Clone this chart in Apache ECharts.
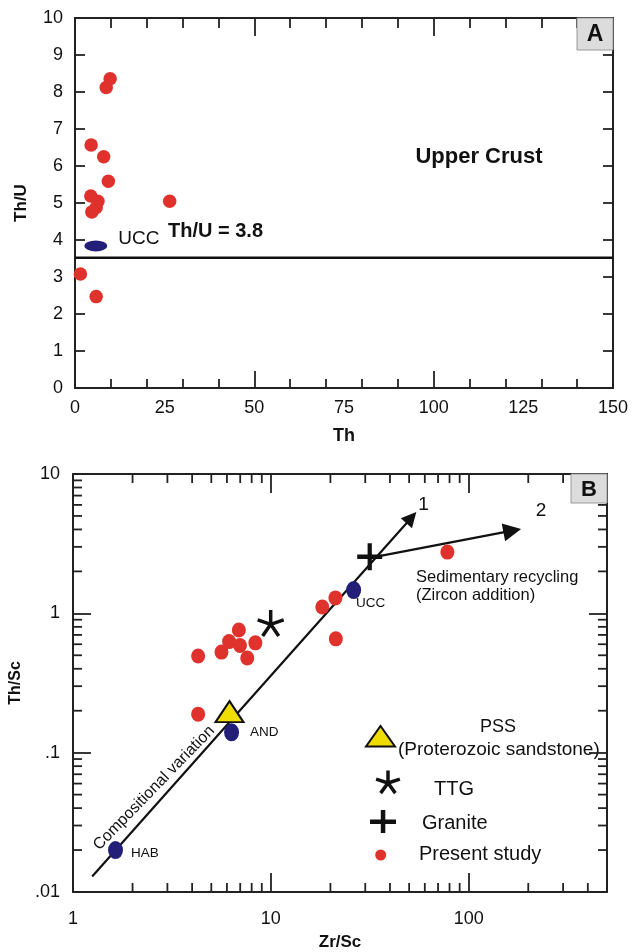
<!DOCTYPE html>
<html>
<head>
<meta charset="utf-8">
<title>Th/U vs Th and Th/Sc vs Zr/Sc</title>
<script src="https://cdn.jsdelivr.net/npm/echarts@6/dist/echarts.min.js"></script>
<style>
  html, body { margin: 0; padding: 0; background: #fff; }
  #chart { width: 632px; height: 952px; }
</style>
</head>
<body>
<div id="chart"></div>
<script>
// panel A : Th (ppm) vs Th/U
const thA  = [9.8, 8.7, 4.5, 8.0, 9.3, 4.4, 6.4, 5.9, 4.7, 26.4, 1.5, 5.9];
const thuA = [8.36, 8.12, 6.57, 6.25, 5.59, 5.19, 5.05, 4.88, 4.76, 5.05, 3.08, 2.47];
const uccA = [5.8, 3.84];
const thuLine = [[0, 3.52], [150, 3.52]];
const xLabelsA = [0, 25, 50, 75, 100, 125, 150];

// panel B : Zr/Sc vs Th/Sc (log-log)
const zrScB = [4.29, 5.63, 6.15, 6.89, 6.98, 7.60, 8.35, 4.29, 18.2, 21.2, 21.3, 78.0];
const thScB = [0.494, 0.527, 0.627, 0.760, 0.587, 0.478, 0.614, 0.189, 1.11, 1.29, 0.656, 2.75];
const refNames = ['HAB', 'AND', 'UCC'];
const refZr    = [1.64, 6.33, 26.2];
const refTh    = [0.020, 0.140, 1.47];
const pssB     = [6.18, 0.197];
const ttgB     = [9.98, 0.853];
const graniteB = [31.6, 2.55];
const trend1   = [[1.25, 0.0129], [51.3, 4.86]];   // compositional variation -> 1
const trend2   = [[34.2, 2.55], [166, 3.92]];      // sedimentary recycling -> 2
const xLabelsB = {1: '1', 10: '10', 100: '100'};
const yLabelsB = {0.01: '.01', 0.1: '.1', 1: '1', 10: '10'};

// minor ticks of the log axes (2..9 in each decade)
const minorXB = [];
[1, 10, 100].forEach(d => { for (let k = 2; k <= 9; k++) if (k * d < 500) minorXB.push(k * d); });
const minorYB = [];
[0.01, 0.1, 1].forEach(d => { for (let k = 2; k <= 9; k++) minorYB.push(+(k * d).toPrecision(3)); });

const FONT = '"Liberation Sans", Arial, sans-serif';
const INK = '#111';
const AXIS = '#222';
const RED = '#e0322c';
const NAVY = '#231f78';
const YELLOW = '#f0dc00';

const chart = echarts.init(document.getElementById('chart'), null, {renderer: 'canvas'});

const axisLine = {onZero: false, lineStyle: {color: AXIS, width: 2}};
const tickStyle = {color: AXIS, width: 1.8};

function logLabel(map) {
  return v => map[+(+v).toPrecision(6)] || '';
}

// asterisk (5 arms) and plus symbols
const asteriskPath = 'path://M0,-1L0,0M0.951,-0.309L0,0M0.588,0.809L0,0M-0.588,0.809L0,0M-0.951,-0.309L0,0';
const plusPath = 'path://M-1,-0.17L1,-0.17L1,0.17L-1,0.17ZM-0.17,-1L0.17,-1L0.17,1L-0.17,1Z';

const legendStar = [0, 72, 144, 216, 288].map(a => {
  const r = a * Math.PI / 180;
  return {
    type: 'line',
    shape: {x1: 388, y1: 783, x2: 388 + 12.5 * Math.sin(r), y2: 783 - 12.5 * Math.cos(r)},
    style: {stroke: INK, lineWidth: 3.5}
  };
});

const option = {
  animation: false,
  textStyle: {fontFamily: FONT, color: INK},
  grid: [
    {left: 75, top: 18, right: 19, height: 370},
    {left: 73, top: 474, right: 25, height: 420}
  ],
  xAxis: [
    {
      gridIndex: 0, type: 'value', position: 'bottom', min: 0, max: 150, interval: 50,
      name: 'Th', nameLocation: 'middle', nameGap: 39,
      nameTextStyle: {fontSize: 18, fontWeight: 'bold', color: INK, fontFamily: FONT},
      axisLine: axisLine,
      axisTick: {inside: true, length: 17, lineStyle: tickStyle},
      minorTick: {show: true, splitNumber: 5, length: 9, lineStyle: tickStyle},
      axisLabel: {customValues: xLabelsA, fontSize: 18, margin: 11, color: INK, fontFamily: FONT},
      splitLine: {show: false}
    },
    {
      gridIndex: 0, type: 'value', position: 'top', min: 0, max: 150, interval: 50,
      axisLine: axisLine,
      axisTick: {inside: true, length: 18, lineStyle: tickStyle},
      minorTick: {show: true, splitNumber: 5, length: 10, lineStyle: tickStyle},
      axisLabel: {show: false},
      splitLine: {show: false}
    },
    {
      gridIndex: 1, type: 'log', logBase: 10, position: 'bottom', min: 1, max: 500,
      name: 'Zr/Sc', nameLocation: 'middle', nameGap: 42,
      nameTextStyle: {fontSize: 17, fontWeight: 'bold', color: INK, fontFamily: FONT},
      axisLine: axisLine,
      axisTick: {inside: true, length: 19, lineStyle: tickStyle},
      axisLabel: {formatter: logLabel(xLabelsB), fontSize: 18, margin: 18, color: INK, fontFamily: FONT},
      splitLine: {show: false}
    },
    {
      gridIndex: 1, type: 'log', logBase: 10, position: 'top', min: 1, max: 500,
      axisLine: axisLine,
      axisTick: {inside: true, length: 19, lineStyle: tickStyle},
      axisLabel: {show: false},
      splitLine: {show: false}
    }
  ],
  yAxis: [
    {
      gridIndex: 0, type: 'value', position: 'left', min: 0, max: 10, interval: 1,
      name: 'Th/U', nameLocation: 'middle', nameGap: 45,
      nameTextStyle: {fontSize: 17, fontWeight: 'bold', color: INK, fontFamily: FONT},
      axisLine: axisLine,
      axisTick: {inside: true, length: 10, lineStyle: tickStyle},
      axisLabel: {fontSize: 18, margin: 12, color: INK, fontFamily: FONT},
      splitLine: {show: false}
    },
    {
      gridIndex: 0, type: 'value', position: 'right', min: 0, max: 10, interval: 1,
      axisLine: axisLine,
      axisTick: {inside: true, length: 10, lineStyle: tickStyle},
      axisLabel: {show: false},
      splitLine: {show: false}
    },
    {
      gridIndex: 1, type: 'log', logBase: 10, position: 'left', min: 0.01, max: 10,
      name: 'Th/Sc', nameLocation: 'middle', nameGap: 48,
      nameTextStyle: {fontSize: 16, fontWeight: 'bold', color: INK, fontFamily: FONT},
      axisLine: axisLine,
      axisTick: {inside: true, length: 18, lineStyle: tickStyle},
      axisLabel: {formatter: logLabel(yLabelsB), fontSize: 18, margin: 13, color: INK, fontFamily: FONT},
      splitLine: {show: false}
    },
    {
      gridIndex: 1, type: 'log', logBase: 10, position: 'right', min: 0.01, max: 10,
      axisLine: axisLine,
      axisTick: {inside: true, length: 18, lineStyle: tickStyle},
      axisLabel: {show: false},
      splitLine: {show: false}
    }
  ],
  series: [
    // ---- A ----
    {
      type: 'line', xAxisIndex: 0, yAxisIndex: 0, data: thuLine,
      symbol: 'none', silent: true, z: 1,
      lineStyle: {color: INK, width: 2.5}
    },
    {
      name: 'Present study', type: 'scatter', xAxisIndex: 0, yAxisIndex: 0,
      data: thA.map((x, i) => [x, thuA[i]]),
      symbolSize: 13.5, itemStyle: {color: RED, opacity: 1}
    },
    {
      name: 'UCC', type: 'scatter', xAxisIndex: 0, yAxisIndex: 0,
      data: [uccA], symbolSize: [23, 11], itemStyle: {color: NAVY, opacity: 1},
      label: {show: true, formatter: 'UCC', position: 'right', offset: [6, -7],
              fontSize: 19, color: INK, fontFamily: FONT}
    },
    // ---- B ----
    {
      type: 'lines', coordinateSystem: 'cartesian2d', xAxisIndex: 2, yAxisIndex: 2,
      silent: true, z: 1,
      symbol: ['none', 'triangle'],
      lineStyle: {color: INK, width: 2.2, opacity: 1},
      data: [
        {coords: trend1, symbolSize: [12, 15]},
        {coords: trend2, symbolSize: [15, 18]}
      ]
    },
    {
      name: 'Present study', type: 'scatter', xAxisIndex: 2, yAxisIndex: 2,
      data: zrScB.map((x, i) => [x, thScB[i]]),
      symbolSize: [14, 15], itemStyle: {color: RED, opacity: 1}
    },
    {
      name: 'References', type: 'scatter', xAxisIndex: 2, yAxisIndex: 2,
      symbolSize: [15, 18], itemStyle: {color: NAVY, opacity: 1},
      label: {show: true, position: 'right', formatter: p => p.name,
              fontSize: 13.5, color: INK, fontFamily: FONT},
      data: refNames.map((n, i) => ({
        name: n, value: [refZr[i], refTh[i]],
        label: {offset: [[3, 3], [6, 0], [-10, 13]][i]}
      }))
    },
    {
      name: 'PSS', type: 'scatter', xAxisIndex: 2, yAxisIndex: 2,
      data: [pssB], symbol: 'triangle', symbolSize: [28, 21],
      itemStyle: {color: YELLOW, borderColor: INK, borderWidth: 2, opacity: 1}
    },
    {
      name: 'TTG', type: 'scatter', xAxisIndex: 2, yAxisIndex: 2,
      data: [ttgB], symbol: asteriskPath, symbolSize: 26,
      itemStyle: {color: 'none', borderColor: INK, borderWidth: 3.5, opacity: 1}
    },
    {
      name: 'Granite', type: 'scatter', xAxisIndex: 2, yAxisIndex: 2,
      data: [graniteB], symbol: plusPath, symbolSize: [25, 27],
      itemStyle: {color: INK, opacity: 1}
    },
    {
      // minor ticks on all four sides of panel B
      type: 'custom', xAxisIndex: 2, yAxisIndex: 2, silent: true, z: 5,
      encode: {x: 0, y: 1},
      data: minorXB.map(v => [v, 1, 0]).concat(minorYB.map(v => [1, v, 1])),
      renderItem: function (params, api) {
        const cs = params.coordSys;
        const p = api.coord([api.value(0), api.value(1)]);
        const len = 9;
        const style = {stroke: AXIS, lineWidth: 1.8};
        if (api.value(2) === 0) {
          return {type: 'group', children: [
            {type: 'line', shape: {x1: p[0], y1: cs.y + cs.height, x2: p[0], y2: cs.y + cs.height - len}, style: style},
            {type: 'line', shape: {x1: p[0], y1: cs.y, x2: p[0], y2: cs.y + len}, style: style}
          ]};
        }
        return {type: 'group', children: [
          {type: 'line', shape: {x1: cs.x, y1: p[1], x2: cs.x + len, y2: p[1]}, style: style},
          {type: 'line', shape: {x1: cs.x + cs.width, y1: p[1], x2: cs.x + cs.width - len, y2: p[1]}, style: style}
        ]};
      }
    }
  ],
  graphic: [
    // panel letters
    {type: 'rect', shape: {x: 577, y: 18, width: 36, height: 32}, style: {fill: '#dcdcdc', stroke: '#9a9a9a', lineWidth: 1}, z: 10},
    {type: 'text', x: 595, y: 35, z: 11, style: {text: 'A', font: 'bold 23px ' + FONT, fill: INK, align: 'center', verticalAlign: 'middle'}},
    {type: 'rect', shape: {x: 571, y: 474, width: 36, height: 29}, style: {fill: '#dcdcdc', stroke: '#9a9a9a', lineWidth: 1}, z: 10},
    {type: 'text', x: 589, y: 490, z: 11, style: {text: 'B', font: 'bold 22px ' + FONT, fill: INK, align: 'center', verticalAlign: 'middle'}},
    // panel A notes
    {type: 'text', x: 479, y: 157, style: {text: 'Upper Crust', font: 'bold 22px ' + FONT, fill: INK, align: 'center', verticalAlign: 'middle'}},
    {type: 'text', x: 168, y: 231, style: {text: 'Th/U = 3.8', font: 'bold 20px ' + FONT, fill: INK, align: 'left', verticalAlign: 'middle'}},
    // panel B notes
    {type: 'text', x: 423.5, y: 505, style: {text: '1', font: '19px ' + FONT, fill: INK, align: 'center', verticalAlign: 'middle'}},
    {type: 'text', x: 541, y: 511, style: {text: '2', font: '19px ' + FONT, fill: INK, align: 'center', verticalAlign: 'middle'}},
    {type: 'text', x: 416, y: 577, style: {text: 'Sedimentary recycling', font: '16.5px ' + FONT, fill: INK, align: 'left', verticalAlign: 'middle'}},
    {type: 'text', x: 416, y: 595, style: {text: '(Zircon addition)', font: '16.5px ' + FONT, fill: INK, align: 'left', verticalAlign: 'middle'}},
    {type: 'text', x: 154, y: 788, rotation: 0.8, style: {text: 'Compositional variation', font: '16px ' + FONT, fill: INK, align: 'center', verticalAlign: 'middle'}},
    // legend of panel B
    {type: 'polygon', shape: {points: [[366, 746.5], [395, 746.5], [380.5, 726]]}, style: {fill: YELLOW, stroke: INK, lineWidth: 2}},
    {type: 'text', x: 498, y: 727, style: {text: 'PSS', font: '18px ' + FONT, fill: INK, align: 'center', verticalAlign: 'middle'}},
    {type: 'text', x: 398, y: 749.5, style: {text: '(Proterozoic sandstone)', font: '19px ' + FONT, fill: INK, align: 'left', verticalAlign: 'middle'}},
    {type: 'group', children: legendStar},
    {type: 'text', x: 434, y: 789.5, style: {text: 'TTG', font: '20px ' + FONT, fill: INK, align: 'left', verticalAlign: 'middle'}},
    {type: 'rect', shape: {x: 370, y: 819.5, width: 26, height: 4.5}, style: {fill: INK}},
    {type: 'rect', shape: {x: 380.8, y: 810, width: 4.5, height: 23}, style: {fill: INK}},
    {type: 'text', x: 422, y: 823.5, style: {text: 'Granite', font: '20px ' + FONT, fill: INK, align: 'left', verticalAlign: 'middle'}},
    {type: 'circle', shape: {cx: 380.7, cy: 855, r: 5.5}, style: {fill: RED}},
    {type: 'text', x: 419, y: 854, style: {text: 'Present study', font: '20px ' + FONT, fill: INK, align: 'left', verticalAlign: 'middle'}}
  ]
};

chart.setOption(option);
</script>
</body>
</html>
